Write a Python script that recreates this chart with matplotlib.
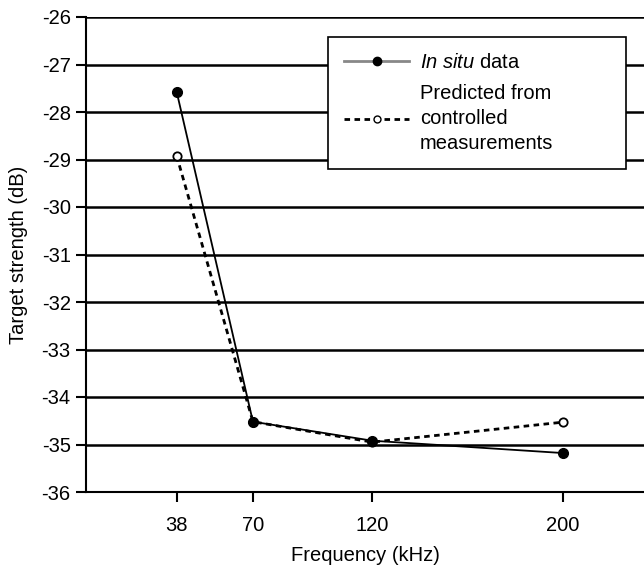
import matplotlib
matplotlib.use("Agg")
import matplotlib.pyplot as plt
from matplotlib.lines import Line2D

plt.rcParams['font.family'] = ['Liberation Sans', 'DejaVu Sans']
plt.rcParams['mathtext.fontset'] = 'custom'
plt.rcParams['mathtext.it'] = 'Liberation Sans:italic'
plt.rcParams['mathtext.rm'] = 'Liberation Sans'

freq = [38, 70, 120, 200]
in_situ = [-27.57, -34.52, -34.92, -35.18]
predicted = [-28.92, -34.52, -34.95, -34.53]
xticks = [38, 70, 120, 200]
yticks = list(range(-36, -25))

fig = plt.figure(figsize=(6.44, 5.69), dpi=100)
ax = fig.add_axes([86/644, 1-492/569, 1-86/644, (492-17)/569])

for y in yticks:
    ax.axhline(y, color='black', lw=1.8, zorder=1)

ax.plot(freq, predicted, color='black', lw=2, linestyle=(0, (2, 1.6)),
        marker='o', markersize=6, markerfacecolor='white', markeredgecolor='black',
        markeredgewidth=1.3, zorder=3)
ax.plot(freq, in_situ, color='black', lw=1.3, marker='o', markersize=7,
        markerfacecolor='black', markeredgecolor='black', zorder=4)

ax.set_xlim(0, 234)
ax.set_ylim(-36, -26)
ax.set_xticks(xticks)
ax.set_xticklabels([str(v) for v in xticks])
ax.set_yticks(yticks)
ax.set_yticklabels([str(v) for v in yticks])
ax.tick_params(axis='both', direction='out', length=7, width=1.5, labelsize=14.5, colors='black')
ax.tick_params(axis='x', pad=10)
ax.tick_params(axis='y', pad=4)
for s in ['top', 'right']:
    ax.spines[s].set_visible(False)
for s in ['left', 'bottom']:
    ax.spines[s].set_linewidth(1.5)
    ax.spines[s].set_color('black')

ax.set_xlabel('Frequency (kHz)', fontsize=14.5, labelpad=8)
ax.set_ylabel('Target strength (dB)', fontsize=14.5, labelpad=10)

h1 = Line2D([], [], color='#888888', lw=2, marker='o', markersize=6,
            markerfacecolor='black', markeredgecolor='black')
h2 = Line2D([], [], color='black', lw=2, linestyle=(0, (2, 1.6)), marker='o',
            markersize=5, markerfacecolor='white', markeredgecolor='black')
leg = ax.legend([h1, h2], [r'$\mathit{In\ situ}$ data', 'Predicted from\ncontrolled\nmeasurements'],
                loc='upper left', bbox_to_anchor=(0.434, 0.958, 0.534, 0), mode='expand',
                fontsize=14.5, frameon=True, fancybox=False, framealpha=1, edgecolor='black',
                handlelength=3.2, borderpad=0.8, labelspacing=0.6, handletextpad=0.55,
                borderaxespad=0)
for t in leg.get_texts():
    t.set_linespacing(1.4)
leg.get_frame().set_linewidth(1.2)
leg.set_zorder(10)

fig.savefig('out.png', dpi=100)
